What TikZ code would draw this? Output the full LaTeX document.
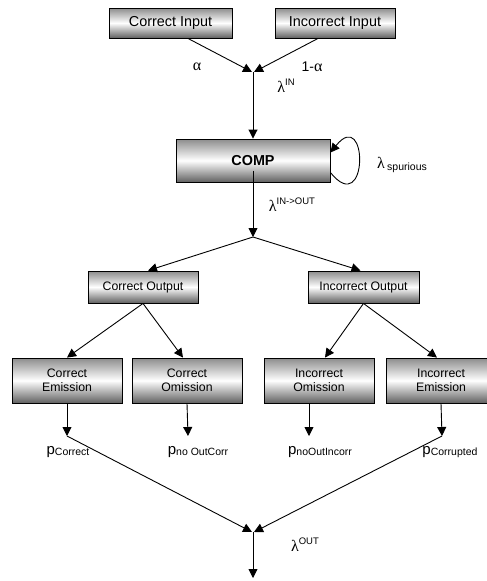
\documentclass[tikz,border=0pt]{standalone}
\usepackage{fontspec}
\setmainfont{Liberation Sans}
\newfontfamily\symfont{Liberation Serif}
\usetikzlibrary{positioning,arrows.meta}

\tikzset{
  statebox/.style={draw=black, line width=0.9pt, top color=black!45, bottom color=black!62,
    middle color=white, inner sep=0pt, align=center, font=\fontsize{12.3}{13.5}\selectfont},
  bigbox/.style={statebox, font=\fontsize{14.4}{16}\selectfont},
  flow/.style={line width=0.9pt, -{Triangle[length=9pt,width=9pt]}},
  rate/.style={inner sep=0pt, font=\fontsize{14}{16}\selectfont},
}
\newcommand{\grk}[1]{{\symfont\fontsize{16}{16}\selectfont #1}}
\newcommand{\supr}[1]{\raisebox{0.5em}{\fontsize{9.5}{10}\selectfont #1}}
\newcommand{\subr}[1]{\raisebox{-0.1em}{\fontsize{10.5}{11}\selectfont #1}}
\newcommand{\prob}[1]{{\fontsize{15}{16}\selectfont p}\subr{#1}}

\begin{document}
\begin{tikzpicture}[x=1pt, y=-1pt]
    \useasboundingbox (0,0) rectangle (487,581);
    \clip (0,0) rectangle (487,581);

    % inputs
    \node[bigbox, minimum width=123pt, minimum height=30pt] (cin) at (170.5,23) {Correct Input};
    \node[bigbox, minimum width=120pt, minimum height=30pt] (iin) at (335,23) {Incorrect Input};
    \coordinate (jin) at (253,72);
    \draw[flow] ([xshift=17.5pt]cin.south) -- ([xshift=-1pt]jin);
    \draw[flow] ([xshift=-17pt]iin.south) -- ([xshift=1pt]jin);
    \node[rate] (alpha) at (197,67) {\grk{α}};
    \node[rate] (notalpha) at (312,67) {1-\grk{α}};

    % component
    \node[bigbox, font=\fontsize{14.4}{16}\selectfont\bfseries, minimum width=154pt, minimum height=43pt] (comp) at (253,160.5) {COMP};
    \draw[flow] (jin) -- (comp.north);
    \node[rate] (lin) at (286,86) {\grk{λ}\supr{IN}};
    \draw[flow] ([yshift=-12pt]comp.east) .. controls +(38,47) and +(38,-47) .. ([yshift=8pt]comp.east);
    \node[rate] (lspur) at (402,165) {\grk{λ}\,\subr{spurious}};

    % outputs
    \coordinate (jmid) at (253,237);
    \draw[flow] ([yshift=-10pt]comp.center) -- (jmid);
    \node[rate] (linout) at (292,205) {\grk{λ}\supr{IN->OUT}};
    \node[statebox, minimum width=110pt, minimum height=32pt] (cout) at (143,287) {Correct Output};
    \node[statebox, minimum width=111pt, minimum height=32pt] (iout) at (363.5,287) {Incorrect Output};
    \draw[flow] (jmid) -- ([xshift=5pt]cout.north);
    \draw[flow] (jmid) -- ([xshift=-3pt]iout.north);

    % emissions and omissions
    \node[statebox, minimum width=110pt, minimum height=45pt] (cem) at (67,380.5) {Correct\\Emission};
    \node[statebox, minimum width=110pt, minimum height=45pt] (com) at (187,380.5) {Correct\\Omission};
    \node[statebox, minimum width=110pt, minimum height=45pt] (iom) at (319,380.5) {Incorrect\\Omission};
    \node[statebox, minimum width=110pt, minimum height=45pt] (iem) at (441,380.5) {Incorrect\\Emission};
    \draw[flow] (cout.south) -- (cem.north);
    \draw[flow] (cout.south) -- ([xshift=-4pt]com.north);
    \draw[flow] (iout.south) -- ([xshift=6pt]iom.north);
    \draw[flow] (iout.south) -- ([xshift=-4pt]iem.north);

    \coordinate (pc) at (67,436);
    \coordinate (pnc) at (188,436);
    \coordinate (pni) at (309,436);
    \coordinate (pcu) at (442,436);
    \draw[flow] (cem.south) -- (pc);
    \draw[flow] (com.south) -- (pnc);
    \draw[flow] ([xshift=-10pt]iom.south) -- (pni);
    \draw[flow] (iem.south) -- (pcu);
    \node[rate] (lpc) at (68,452) {\prob{Correct}};
    \node[rate] (lpnc) at (198,452) {\prob{no OutCorr}};
    \node[rate] (lpni) at (320,452) {\prob{noOutIncorr}};
    \node[rate] (lpcu) at (450,452) {\prob{Corrupted}};

    % output rate
    \coordinate (jout) at (253,532);
    \coordinate (sink) at (253,578);
    \draw[flow] (pc) -- ([xshift=-1pt]jout);
    \draw[flow] (pcu) -- ([xshift=1pt]jout);
    \draw[flow] (jout) -- (sink);
    \node[rate] (lout) at (305,545) {\grk{λ}\supr{OUT}};
\end{tikzpicture}
\end{document}
